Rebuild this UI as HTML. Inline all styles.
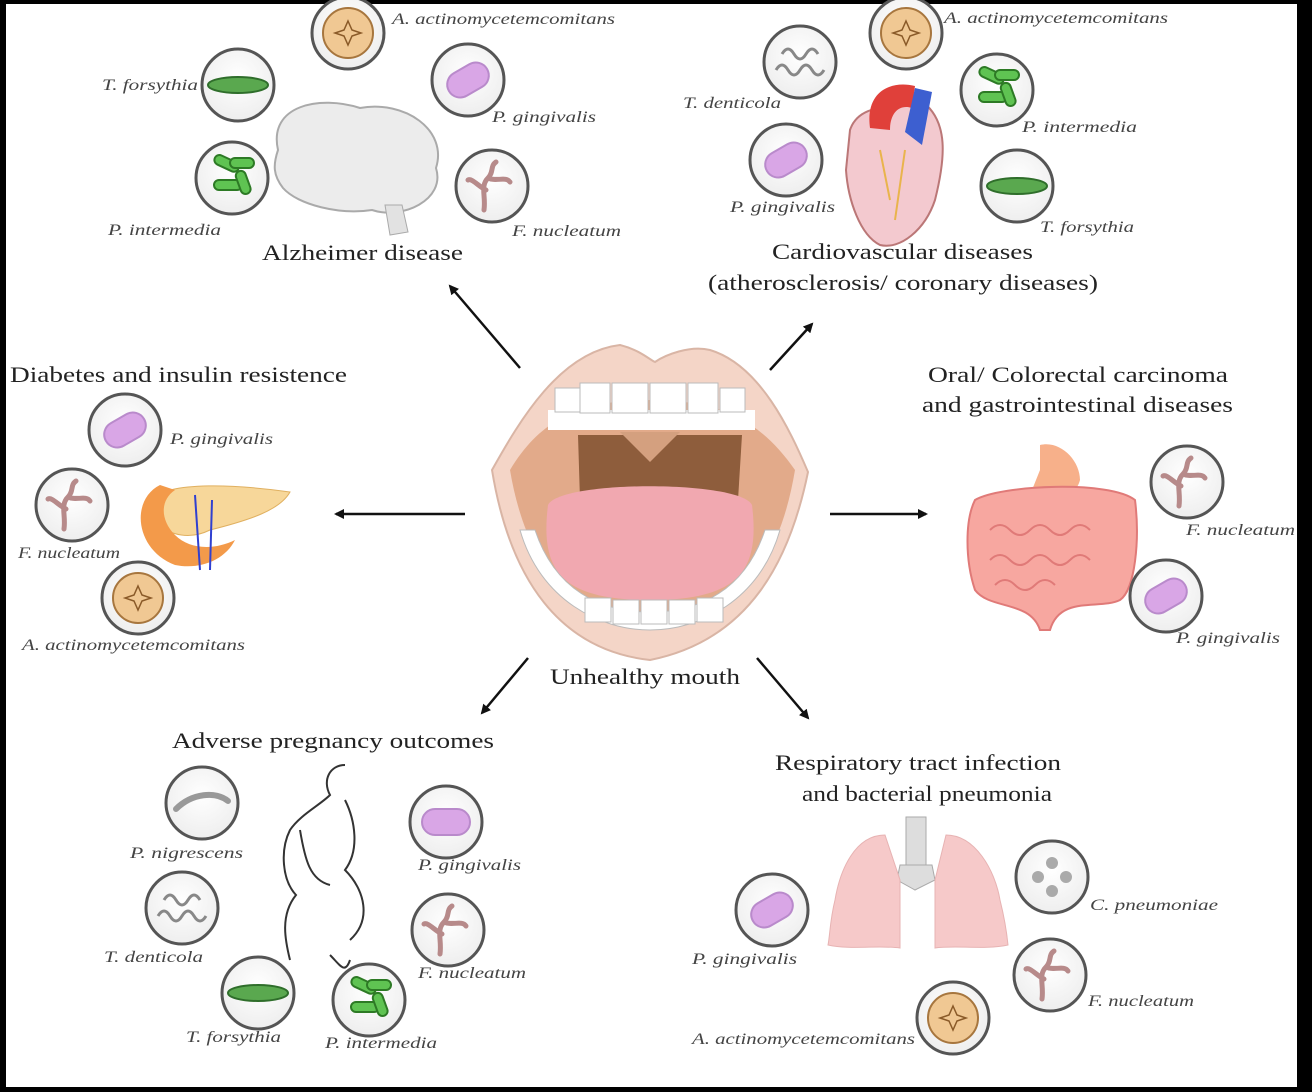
<!DOCTYPE html>
<html><head><meta charset="utf-8"><style>
html,body{margin:0;padding:0;background:#000;}
svg{display:block}
.t{font-family:"Liberation Serif",serif;font-size:22px;fill:#222;}
.s{font-family:"Liberation Serif",serif;font-size:16px;font-style:italic;fill:#444;}
</style></head><body>
<svg width="1312" height="1092" viewBox="0 0 1312 1092" xmlns="http://www.w3.org/2000/svg">
<defs>
<radialGradient id="cg" cx="50%" cy="40%" r="60%"><stop offset="0" stop-color="#fff"/><stop offset="1" stop-color="#eee"/></radialGradient>
<g id="circ"><circle r="36" fill="url(#cg)" stroke="#555" stroke-width="3"/></g>
<g id="pg"><use href="#circ"/><rect x="-22" y="-13" width="44" height="26" rx="13" fill="#d9a6e6" stroke="#b98acb" stroke-width="2" transform="rotate(-30)"/></g>
<g id="pg2"><use href="#circ"/><rect x="-24" y="-13" width="48" height="26" rx="13" fill="#d9a6e6" stroke="#b98acb" stroke-width="2"/></g>
<g id="aa"><use href="#circ"/><circle r="25" fill="#f0c893" stroke="#a7763e" stroke-width="2"/><path d="M0,-12 L4,-3 13,0 4,3 0,12 -4,3 -13,0 -4,-3Z" fill="none" stroke="#8a5a28" stroke-width="1.5"/></g>
<g id="tf"><use href="#circ"/><ellipse rx="30" ry="8" fill="#5aa84f" stroke="#2f6e2b" stroke-width="2"/></g>
<g id="pi"><use href="#circ"/><g fill="#5fc352" stroke="#2d7a25" stroke-width="2"><rect x="-24" y="-16" width="26" height="10" rx="5" transform="rotate(25)"/><rect x="-2" y="-20" width="24" height="10" rx="5"/><rect x="-18" y="2" width="28" height="10" rx="5"/><rect x="4" y="-4" width="10" height="24" rx="5" transform="rotate(-20)"/></g></g>
<g id="fn"><use href="#circ"/><path d="M-8,24 C-6,10 -12,0 -4,-8 C2,-14 -2,-20 4,-24 M-4,-8 C4,-4 14,-10 18,-4 M-6,4 C-14,0 -20,-8 -24,-6" fill="none" stroke="#b78a8a" stroke-width="5" stroke-linecap="round"/></g>
<g id="td"><use href="#circ"/><path d="M-24,8 q6,-10 12,0 q6,10 12,0 q6,-10 12,0 q6,10 12,0 M-18,-8 q6,-10 12,0 q6,10 12,0 q6,-10 12,0" fill="none" stroke="#888" stroke-width="3"/></g>
<g id="pn"><use href="#circ"/><path d="M-26,6 C-10,-10 14,-12 26,-2" fill="none" stroke="#999" stroke-width="6" stroke-linecap="round"/></g>
<g id="cp"><use href="#circ"/><g fill="#aaa"><circle cx="0" cy="-14" r="6"/><circle cx="0" cy="14" r="6"/><circle cx="-14" cy="0" r="6"/><circle cx="14" cy="0" r="6"/></g></g>
<marker id="ar" markerWidth="10" markerHeight="10" refX="8" refY="5" orient="auto" markerUnits="userSpaceOnUse"><path d="M0,0 L10,5 L0,10Z" fill="#111"/></marker>
</defs>
<rect x="6" y="4" width="1291" height="1083" fill="#fff"/>

<!-- Alzheimer -->
<path d="M278,150 C268,105 320,95 360,108 C405,100 448,130 436,168 C446,200 402,220 372,210 C340,215 298,205 283,188 C273,175 273,165 278,150Z" fill="#ececec" stroke="#aaa" stroke-width="2"/>
<path d="M385,205 L390,235 L408,232 L402,205Z" fill="#e2e2e2" stroke="#aaa"/>
<use href="#aa" x="348" y="33"/><use href="#tf" x="238" y="85"/><use href="#pg" x="468" y="80"/><use href="#pi" x="232" y="178"/><use href="#fn" x="492" y="186"/>
<text class="s" x="392" y="24" textLength="223" lengthAdjust="spacingAndGlyphs">A. actinomycetemcomitans</text>
<text class="s" x="102" y="90" textLength="96" lengthAdjust="spacingAndGlyphs">T. forsythia</text>
<text class="s" x="492" y="122" textLength="104" lengthAdjust="spacingAndGlyphs">P. gingivalis</text>
<text class="s" x="108" y="235" textLength="113" lengthAdjust="spacingAndGlyphs">P. intermedia</text>
<text class="s" x="512" y="236" textLength="109" lengthAdjust="spacingAndGlyphs">F. nucleatum</text>
<text class="t" x="262" y="260" textLength="201" lengthAdjust="spacingAndGlyphs">Alzheimer disease</text>

<!-- Cardio -->
<path d="M850,130 C860,100 900,110 920,100 C950,120 945,160 935,200 C925,230 900,250 880,245 C860,235 848,200 846,170Z" fill="#f3c9cf" stroke="#b77" stroke-width="2"/>
<path d="M870,128 C865,92 890,80 915,86 L912,108 C900,104 890,112 890,130Z" fill="#e0403a"/>
<path d="M905,132 L915,88 L932,92 L922,145Z" fill="#3d5fd0"/>
<path d="M880,150 L890,200 M905,150 L895,220" stroke="#e9b44c" stroke-width="2"/>
<use href="#td" x="800" y="62"/><use href="#aa" x="906" y="33"/><use href="#pi" x="997" y="90"/><use href="#pg" x="786" y="160"/><use href="#tf" x="1017" y="186"/>
<text class="s" x="944" y="23" textLength="224" lengthAdjust="spacingAndGlyphs">A. actinomycetemcomitans</text>
<text class="s" x="683" y="108" textLength="98" lengthAdjust="spacingAndGlyphs">T. denticola</text>
<text class="s" x="1022" y="132" textLength="115" lengthAdjust="spacingAndGlyphs">P. intermedia</text>
<text class="s" x="730" y="212" textLength="105" lengthAdjust="spacingAndGlyphs">P. gingivalis</text>
<text class="s" x="1040" y="232" textLength="94" lengthAdjust="spacingAndGlyphs">T. forsythia</text>
<text class="t" x="772" y="259" textLength="261" lengthAdjust="spacingAndGlyphs">Cardiovascular diseases</text>
<text class="t" x="708" y="290" textLength="390" lengthAdjust="spacingAndGlyphs">(atherosclerosis/ coronary diseases)</text>

<!-- Diabetes -->
<text class="t" x="10" y="382" textLength="337" lengthAdjust="spacingAndGlyphs">Diabetes and insulin resistence</text>
<path d="M150,500 C170,480 240,485 290,492 C280,510 250,520 210,530 C190,540 170,535 160,525Z" fill="#f7d79a" stroke="#e0b060"/>
<path d="M160,485 C130,500 135,550 175,565 C200,570 225,560 235,540 C215,550 190,550 175,535 C160,520 160,500 175,490Z" fill="#f39a4a"/>
<path d="M195,495 L200,570 M212,500 L210,570" stroke="#3040d0" stroke-width="2"/>
<use href="#pg" x="125" y="430"/><use href="#fn" x="72" y="505"/><use href="#aa" x="138" y="598"/>
<text class="s" x="170" y="444" textLength="103" lengthAdjust="spacingAndGlyphs">P. gingivalis</text>
<text class="s" x="18" y="558" textLength="102" lengthAdjust="spacingAndGlyphs">F. nucleatum</text>
<text class="s" x="22" y="650" textLength="223" lengthAdjust="spacingAndGlyphs">A. actinomycetemcomitans</text>

<!-- GI -->
<text class="t" x="928" y="382" textLength="300" lengthAdjust="spacingAndGlyphs">Oral/ Colorectal carcinoma</text>
<text class="t" x="922" y="412" textLength="311" lengthAdjust="spacingAndGlyphs">and gastrointestinal diseases</text>
<path d="M1040,445 C1060,440 1080,460 1080,480 C1075,500 1050,505 1030,495 L1040,470Z" fill="#f7b08a"/>
<path d="M975,500 C1000,485 1110,480 1135,500 C1140,540 1135,590 1120,600 C1100,610 1060,595 1050,630 L1040,630 C1030,600 990,610 975,590 C965,560 965,520 975,500Z" fill="#f7a7a0" stroke="#e07a78" stroke-width="2"/>
<path d="M990,530 q10,-10 20,0 q10,10 20,0 q10,-10 20,0 q10,10 20,0 q10,-10 20,0 M990,560 q10,-10 20,0 q10,10 20,0 q10,-10 20,0 q10,10 20,0 q10,-10 20,0 M995,585 q10,-10 20,0 q10,10 20,0 q10,-10 20,0" fill="none" stroke="#e07a78" stroke-width="2"/>
<use href="#fn" x="1187" y="482"/><use href="#pg" x="1166" y="596"/>
<text class="s" x="1186" y="535" textLength="109" lengthAdjust="spacingAndGlyphs">F. nucleatum</text>
<text class="s" x="1176" y="643" textLength="104" lengthAdjust="spacingAndGlyphs">P. gingivalis</text>

<!-- Mouth -->
<path d="M492,470 C520,420 560,352 620,345 C640,350 650,360 655,362 C665,355 690,345 710,350 C760,365 790,430 808,472 C790,560 750,640 650,660 C560,650 510,580 492,470Z" fill="#f4d5c7" stroke="#d9b5a5" stroke-width="2"/>
<path d="M510,470 C540,420 580,400 650,400 C720,400 760,420 795,470 C780,560 740,620 650,630 C570,625 525,560 510,470Z" fill="#e2aa8a"/>
<path d="M548,410 L755,410 L755,430 L548,430Z" fill="#fff"/>
<g fill="#fff" stroke="#bbb"><rect x="580" y="383" width="30" height="30"/><rect x="612" y="383" width="36" height="30"/><rect x="650" y="383" width="36" height="30"/><rect x="688" y="383" width="30" height="30"/><rect x="720" y="388" width="25" height="24"/><rect x="555" y="388" width="25" height="24"/></g>
<path d="M578,435 L742,435 L738,500 L580,500Z" fill="#8e5d3c"/>
<path d="M620,432 L650,462 L680,432Z" fill="#d4a07f"/>
<path d="M520,530 C540,600 600,630 650,630 C700,630 760,600 780,530 L765,530 C745,590 700,612 650,612 C600,612 555,590 535,530Z" fill="#fff" stroke="#bbb"/>
<path d="M548,505 C560,480 740,480 752,505 C760,570 740,600 650,600 C560,600 540,570 548,505Z" fill="#f1a8b0"/>
<g fill="#fff" stroke="#bbb"><rect x="585" y="598" width="26" height="24"/><rect x="613" y="600" width="26" height="24"/><rect x="641" y="600" width="26" height="24"/><rect x="669" y="600" width="26" height="24"/><rect x="697" y="598" width="26" height="24"/></g>
<text class="t" x="550" y="684" textLength="190" lengthAdjust="spacingAndGlyphs">Unhealthy mouth</text>

<!-- arrows -->
<g stroke="#111" stroke-width="2.5" marker-end="url(#ar)">
<line x1="520" y1="368" x2="450" y2="286"/><line x1="770" y1="370" x2="812" y2="324"/>
<line x1="465" y1="514" x2="336" y2="514"/><line x1="830" y1="514" x2="926" y2="514"/>
<line x1="528" y1="658" x2="482" y2="713"/><line x1="757" y1="658" x2="808" y2="718"/>
</g>

<!-- Pregnancy -->
<text class="t" x="172" y="748" textLength="322" lengthAdjust="spacingAndGlyphs">Adverse pregnancy outcomes</text>
<path d="M345,765 C330,765 322,780 330,795 C320,805 300,815 290,830 C280,850 282,880 296,895 C280,915 285,940 290,960 M345,800 C355,820 360,850 345,870 C365,890 372,920 350,940 M330,955 C340,965 345,975 350,960 M300,830 C305,860 310,880 330,885" fill="none" stroke="#333" stroke-width="2"/>
<use href="#pn" x="202" y="803"/><use href="#pg2" x="446" y="822"/><use href="#td" x="182" y="908"/><use href="#fn" x="448" y="930"/><use href="#tf" x="258" y="993"/><use href="#pi" x="369" y="1000"/>
<text class="s" x="130" y="858" textLength="113" lengthAdjust="spacingAndGlyphs">P. nigrescens</text>
<text class="s" x="418" y="870" textLength="103" lengthAdjust="spacingAndGlyphs">P. gingivalis</text>
<text class="s" x="104" y="962" textLength="99" lengthAdjust="spacingAndGlyphs">T. denticola</text>
<text class="s" x="418" y="978" textLength="108" lengthAdjust="spacingAndGlyphs">F. nucleatum</text>
<text class="s" x="186" y="1042" textLength="95" lengthAdjust="spacingAndGlyphs">T. forsythia</text>
<text class="s" x="325" y="1048" textLength="112" lengthAdjust="spacingAndGlyphs">P. intermedia</text>

<!-- Respiratory -->
<text class="t" x="775" y="770" textLength="286" lengthAdjust="spacingAndGlyphs">Respiratory tract infection</text>
<text class="t" x="802" y="801" textLength="250" lengthAdjust="spacingAndGlyphs">and bacterial pneumonia</text>
<rect x="906" y="817" width="20" height="50" fill="#ddd" stroke="#aaa"/>
<path d="M900,865 L932,865 L935,880 L915,890 L897,880Z" fill="#ddd" stroke="#aaa"/>
<path d="M885,835 C855,835 840,870 835,900 C830,920 830,935 828,945 C850,950 880,945 900,948 L900,880 Z" fill="#f6c9c9" stroke="#e7b3b3"/>
<path d="M946,835 C975,835 995,870 1000,900 C1005,920 1007,935 1008,945 C985,950 955,945 935,948 L935,880 Z" fill="#f6c9c9" stroke="#e7b3b3"/>
<use href="#pg" x="772" y="910"/><use href="#cp" x="1052" y="877"/><use href="#fn" x="1050" y="975"/><use href="#aa" x="953" y="1018"/>
<text class="s" x="692" y="964" textLength="105" lengthAdjust="spacingAndGlyphs">P. gingivalis</text>
<text class="s" x="1090" y="910" textLength="128" lengthAdjust="spacingAndGlyphs">C. pneumoniae</text>
<text class="s" x="1088" y="1006" textLength="106" lengthAdjust="spacingAndGlyphs">F. nucleatum</text>
<text class="s" x="692" y="1044" textLength="223" lengthAdjust="spacingAndGlyphs">A. actinomycetemcomitans</text>
</svg>
</body></html>
